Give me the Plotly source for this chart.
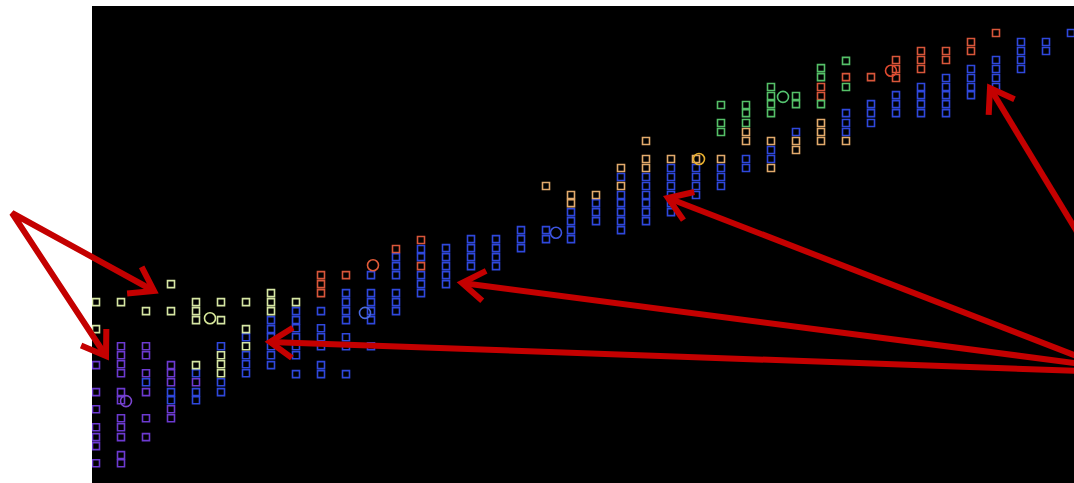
import plotly.graph_objects as go

# ---- data (x = column index, y = level) ----
yg_x = [1, 1, 2, 3, 4, 4, 5, 5, 5, 5, 6, 6, 6, 6, 6, 7, 7, 7, 8, 8, 8, 9]
yg_y = [20.1, 17.1, 20.1, 19.1, 22.1, 19.1, 20.1, 19.1, 18.1, 13.1,
        20.1, 18.1, 14.2, 13.2, 12.2, 20.1, 17.1, 15.2, 21.1, 20.1, 19.1, 20.1]

purple_x = [1] * 7 + [2] * 11 + [3] * 6 + [4] * 5 + [5]
purple_y = [13.1, 10.1, 8.2, 6.2, 5.1, 4.1, 2.2,
            15.2, 14.2, 13.2, 12.2, 10.1, 9.2, 7.2, 6.2, 5.1, 3.1, 2.2,
            15.2, 14.2, 12.2, 10.1, 7.2, 5.1,
            13.1, 12.2, 11.2, 8.2, 7.2,
            11.2]

blue_cols = {
    3: [11.2], 4: [10.1, 9.2], 5: [12.2, 10.1, 9.2], 6: [15.2, 11.2, 10.1],
    7: [16.2, 14.2, 13.2, 12.2], 8: [18.1, 17.1, 16.2, 15.2, 14.2, 13.1],
    9: [19.1, 18.1, 17.2, 16.2, 15.2, 14.2, 12.1],
    10: [19.1, 17.2, 16.2, 15.2, 13.1, 12.1],
    11: [21.1, 20.1, 19.1, 18.1, 16.2, 15.2, 12.1],
    12: [23.1, 21.1, 20.1, 19.1, 18.1, 15.2],
    13: [25.1, 24.1, 23.1, 21.1, 20.1, 19.1],
    14: [26.0, 25.1, 23.1, 22.1, 21.1],
    15: [26.1, 25.1, 24.1, 23.1, 22.1],
    16: [27.1, 26.1, 25.1, 24.1], 17: [27.1, 26.1, 25.1, 24.1],
    18: [28.1, 27.1, 26.1], 19: [28.1, 27.1], 20: [30.1, 29.1, 28.1, 27.1],
    21: [31.1, 30.1, 29.1], 22: [34.0, 32.0, 31.1, 30.1, 29.1, 28.1],
    23: [34.0, 33.0, 32.0, 31.1, 30.1, 29.1],
    24: [35.0, 34.0, 33.0, 32.0, 31.1, 30.1],
    25: [35.0, 34.0, 33.0, 32.0], 26: [35.0, 34.0, 33.0], 27: [36.0, 35.0],
    28: [37.0, 36.0], 29: [39.0], 31: [41.1, 40.0, 39.0], 32: [42.1, 41.1, 40.0],
    33: [43.1, 42.1, 41.1], 34: [44.0, 43.1, 42.1, 41.1],
    35: [45.0, 44.0, 43.1, 42.1, 41.1], 36: [46.0, 45.0, 44.0, 43.1],
    37: [47.0, 46.0, 45.0, 44.0], 38: [49.0, 48.0, 47.0, 46.0],
    39: [49.0, 48.0], 40: [50.0],
}
blue_x = [c for c, vals in blue_cols.items() for _ in vals]
blue_y = [v for vals in blue_cols.values() for v in vals]

red_x = [10, 10, 10, 11, 13, 14, 14, 30, 30, 31, 32, 33, 33, 33, 34, 34, 34, 35, 35, 36, 36, 37]
red_y = [23.1, 22.1, 21.1, 23.1, 26.0, 27.0, 24.1, 44.0, 43.0, 45.1, 45.1,
         47.0, 46.0, 45.0, 48.0, 47.0, 46.0, 48.0, 47.0, 49.0, 48.0, 50.0]

orange_x = [19, 20, 20, 21, 22, 22, 23, 23, 23, 24, 25, 26, 27, 27, 28, 28, 29, 29, 30, 30, 30, 31]
orange_y = [33.0, 32.0, 31.1, 32.0, 35.0, 33.0, 38.0, 36.0, 35.0, 36.0, 36.0, 36.0,
            39.0, 38.0, 38.0, 35.0, 38.0, 37.0, 40.0, 39.0, 38.0, 38.0]

green_x = [26, 26, 26, 27, 27, 27, 28, 28, 28, 28, 29, 29, 30, 30, 30, 31, 31]
green_y = [42.0, 40.0, 39.0, 42.0, 41.1, 40.0, 44.0, 43.0, 42.1, 41.1, 43.0, 42.1,
           46.1, 45.1, 42.1, 46.9, 44.0]

ring_x = [2.2, 5.56, 11.76, 12.08, 19.4, 25.12, 28.48, 32.8]
ring_y = [9.1, 18.3, 18.9, 24.2, 27.8, 36.0, 42.9, 45.8]
ring_colors = ["#7a45d0", "#d8e89a", "#4a6ae0", "#e05a38", "#3d55e0", "#e8b030", "#55c470", "#e04a30"]

series = [
    ("purple", purple_x, purple_y, "#6c3ad0"),
    ("blue", blue_x, blue_y, "#2f48dc"),
    ("yellow-green", yg_x, yg_y, "#d6e6a4"),
    ("red", red_x, red_y, "#d8563a"),
    ("orange", orange_x, orange_y, "#e2aa6c"),
    ("green", green_x, green_y, "#55c068"),
]

fig = go.Figure()
for name, xs, ys, col in series:
    fig.add_trace(go.Scatter(
        x=xs, y=ys, mode="markers", name=name,
        marker=dict(symbol="square-open", size=7, color=col, line=dict(width=1.6, color=col)),
        showlegend=False, hoverinfo="skip"))

fig.add_trace(go.Scatter(
    x=ring_x, y=ring_y, mode="markers",
    marker=dict(symbol="circle-open", size=11, color=ring_colors, line=dict(width=1.6, color=ring_colors)),
    showlegend=False, hoverinfo="skip"))

# ---- red arrow annotations (pixel positions converted to paper coordinates) ----
W, H, L, T = 1074, 483, 92, 6
PW, PH = W - L, H - T


def P(px, py):
    return (px - L) / PW, (H - py) / PH


def arrow_head(tail, tip, length=27, half_angle=34):
    import math
    dx, dy = tail[0] - tip[0], tail[1] - tip[1]
    ang = math.atan2(dy, dx)
    a = math.radians(half_angle)
    p1 = (tip[0] + length * math.cos(ang + a), tip[1] + length * math.sin(ang + a))
    p2 = (tip[0] + length * math.cos(ang - a), tip[1] + length * math.sin(ang - a))
    return p1, p2


def path(points):
    s = ""
    for i, (px, py) in enumerate(points):
        x, y = P(px, py)
        s += ("M" if i == 0 else " L") + f"{x:.5f},{y:.5f}"
    return s


RED = "#c40000"
arrows = [
    ((12, 213), (154, 291)),
    ((12, 213), (106, 356)),
    ((1082, 240), (990, 88)),
    ((1082, 358), (668, 198)),
    ((1082, 364), (462, 283)),
    ((1082, 371), (270, 342)),
]
shapes = []
# shared tail of the two left arrows
shapes.append(dict(type="path", xref="paper", yref="paper",
                   path=path([(154, 291), (12, 213), (106, 356)]),
                   line=dict(color=RED, width=6), layer="above"))
for i, (tail, tip) in enumerate(arrows):
    if i >= 2:
        shapes.append(dict(type="path", xref="paper", yref="paper",
                           path=path([tail, tip]),
                           line=dict(color=RED, width=6), layer="above"))
    h1, h2 = arrow_head(tail, tip)
    shapes.append(dict(type="path", xref="paper", yref="paper",
                       path=path([h1, tip, h2]),
                       line=dict(color=RED, width=6), layer="above"))

fig.update_layout(
    width=W, height=H,
    margin=dict(l=L, r=0, t=T, b=0, pad=0),
    paper_bgcolor="white", plot_bgcolor="black",
    xaxis=dict(range=[0.84, 40.12], visible=False, showgrid=False, zeroline=False),
    yaxis=dict(range=[0, 53], visible=False, showgrid=False, zeroline=False),
    shapes=shapes,
)

fig.write_html("out.html", config={"displayModeBar": False})
